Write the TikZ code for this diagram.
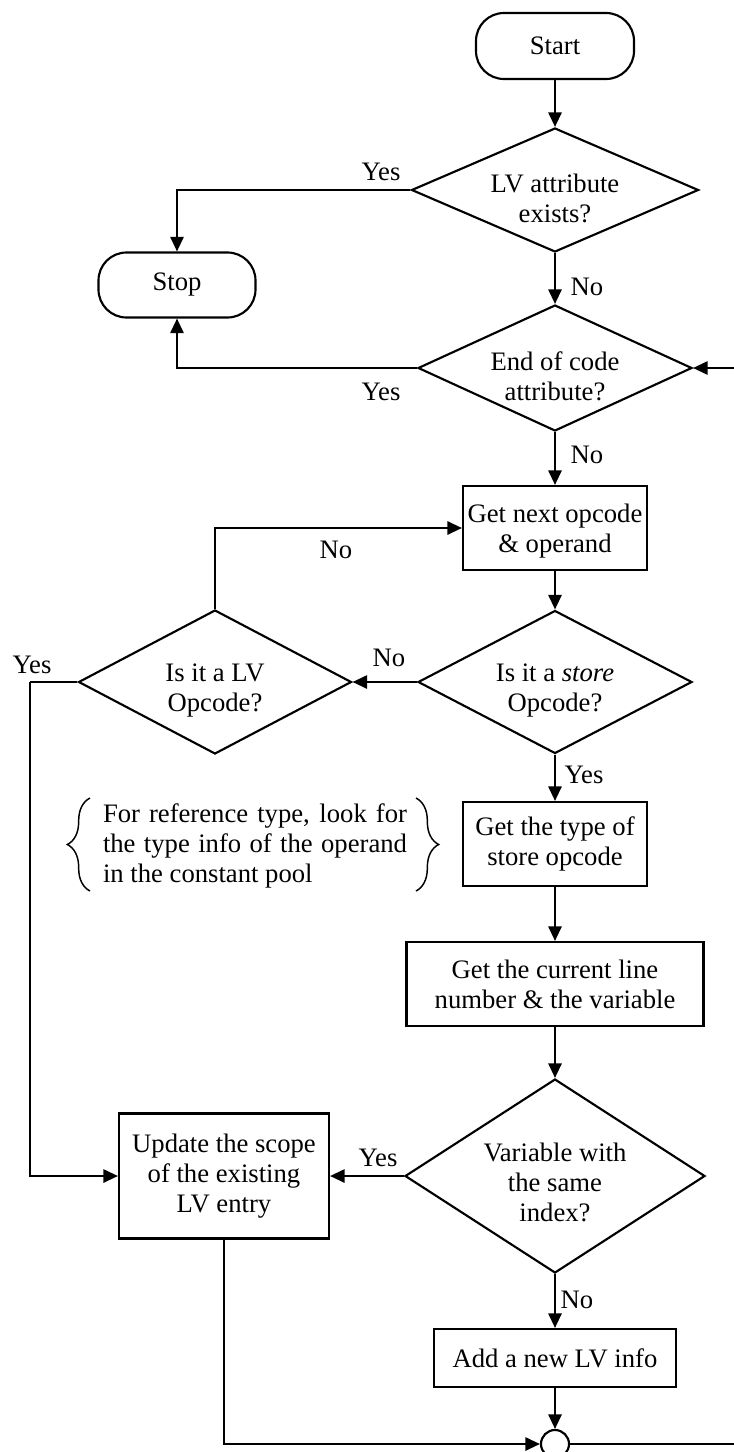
\documentclass[tikz,border=0pt]{standalone}
\usepackage{fontspec}
\setmainfont{Liberation Serif}
\usetikzlibrary{arrows.meta,shapes.geometric,decorations.pathreplacing}
% taller first line, so that the text of a decision sits a little low
\newcommand\firstline{\rule{0pt}{26pt}}

\begin{document}
\begin{tikzpicture}[x=0.75pt,y=-0.75pt,
  every node/.style={font=\fontsize{20pt}{22.5pt}\selectfont},
  line/.style={line width=1.6pt},
  arr/.style={line width=1.6pt,-{Triangle[length=11pt,width=10pt]}},
  terminal/.style={draw,line width=1.6pt,rectangle,rounded corners=21pt,inner sep=0pt},
  procbox/.style={draw,line width=1.6pt,rectangle,inner sep=0pt,align=center},
  decision/.style={draw,line width=1.6pt,diamond,inner sep=0pt,align=center},
  joint/.style={draw,line width=1.6pt,circle,inner sep=0pt,minimum size=21pt},
  tag/.style={inner sep=0pt},
  bracestyle/.style={line width=1.1pt,decorate,decoration={brace,amplitude=17pt}}
]
\useasboundingbox (0,0) rectangle (734,1452);

% main column
\node[terminal,minimum width=118.5pt,minimum height=49.5pt] (start) at (555,46) {Start};
\node[decision,minimum width=215.25pt,minimum height=93pt,aspect=2.31] (d1) at (555,190) {\firstline LV attribute\\exists?};
\node[terminal,minimum width=117.75pt,minimum height=48.75pt] (stop) at (177,285) {Stop};
\node[decision,minimum width=205.5pt,minimum height=94.5pt,aspect=2.17] (d2) at (555,368) {\firstline End of code\\attribute?};
\node[procbox,minimum width=138pt,minimum height=63pt] (getnext) at (555,528) {\rule{0pt}{19pt}Get next opcode\\\& operand};
\node[decision,minimum width=205.5pt,minimum height=107.25pt,aspect=1.92] (store) at (555,682) {\firstline Is it a \textit{store}\\Opcode?};
\node[decision,minimum width=204.75pt,minimum height=108pt,aspect=1.9] (lv) at (215,682) {\firstline Is it a LV\\Opcode?};
\node[procbox,minimum width=138pt,minimum height=63pt] (gettype) at (555,844) {Get the type of\\store opcode};
\node[procbox,minimum width=222.75pt,minimum height=63pt] (getline) at (555,984) {Get the current line\\number \& the variable};
\node[decision,minimum width=225pt,minimum height=145.5pt,aspect=1.55] (var) at (555,1176) {\rule{0pt}{24pt}Variable with\\the same\\index?};
\node[procbox,minimum width=157.5pt,minimum height=93.75pt] (update) at (224,1176) {Update the scope\\of the existing\\LV entry};
\node[procbox,minimum width=181.5pt,minimum height=43.5pt] (add) at (555,1358) {Add a new LV info};
\node[joint] (join) at (555,1444) {};

% side note with braces
\node[tag,align=left] (note) at (255,846)
  {\makebox[228pt][s]{For reference type, look for}\\
   \makebox[228pt][s]{the type info of the operand}\\
   in the constant pool};
\draw[bracestyle] (90,891) -- (90,798);
\draw[bracestyle] (416,798) -- (416,891);

% turning points
\coordinate (lvturn) at (30,682);
\coordinate (backturn) at (745,1444);

% connectors
\draw[arr] (start) -- (d1);
\draw[arr] (d1.west) -| (stop.north);
\draw[arr] (d1) -- (d2);
\draw[arr] (d2.west) -| (stop.south);
\draw[arr] (d2) -- (getnext);
\draw[arr] (getnext) -- (store);
\draw[arr] (store.west) -- (lv.east);
\draw[arr] (lv.north) |- (getnext.west);
\draw[line] (lv.west) -- (lvturn);
\draw[arr] (lvturn) |- (update.west);
\draw[arr] (store) -- (gettype);
\draw[arr] (gettype) -- (getline);
\draw[arr] (getline) -- (var);
\draw[arr] (var.west) -- (update.east);
\draw[arr] (var) -- (add);
\draw[arr] (add) -- (join);
\draw[arr] (update.south) |- (join.west);
\draw[line] (join.east) -- (backturn);
\draw[arr] (backturn) |- (d2.east);

% branch labels
\node[tag] (y1) at (381,172) {Yes};
\node[tag] (y2) at (381,392) {Yes};
\node[tag] (n1) at (587,287) {No};
\node[tag] (n2) at (587,455) {No};
\node[tag] (n3) at (336,550) {No};
\node[tag] (n4) at (389,658) {No};
\node[tag] (y3) at (584,775) {Yes};
\node[tag] (y4) at (32,665) {Yes};
\node[tag] (y5) at (378,1158) {Yes};
\node[tag] (n5) at (577,1300) {No};
\end{tikzpicture}
\end{document}
